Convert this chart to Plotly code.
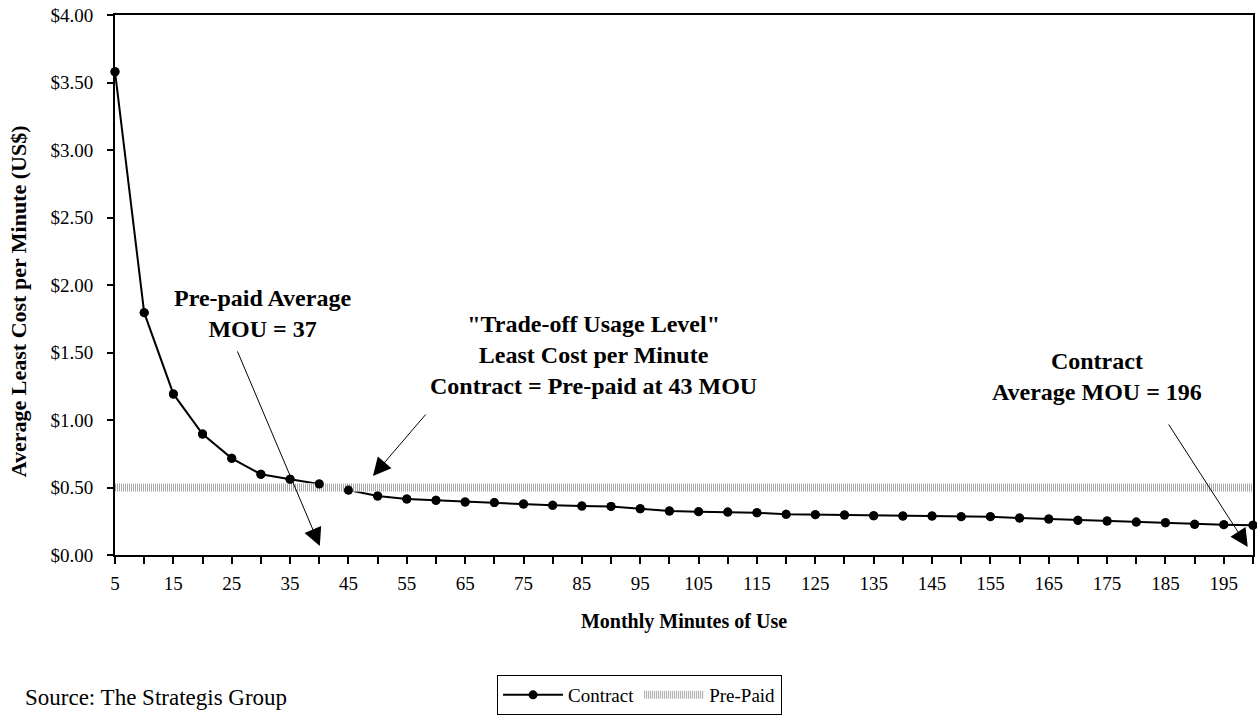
import plotly.graph_objects as go

# Monthly minutes of use (category axis, every 5 minutes)
MINUTES = [5, 10, 15, 20, 25, 30, 35, 40, 45, 50,
           55, 60, 65, 70, 75, 80, 85, 90, 95, 100,
           105, 110, 115, 120, 125, 130, 135, 140, 145, 150,
           155, 160, 165, 170, 175, 180, 185, 190, 195, 200]

# Average least cost per minute on a contract plan (US$)
CONTRACT = [3.58, 1.795, 1.193, 0.896, 0.716, 0.598, 0.561, 0.526, 0.481, 0.437,
            0.415, 0.405, 0.393, 0.388, 0.378, 0.368, 0.363, 0.360, 0.343, 0.326,
            0.321, 0.318, 0.313, 0.301, 0.299, 0.296, 0.291, 0.289, 0.289, 0.284,
            0.284, 0.274, 0.267, 0.257, 0.252, 0.244, 0.239, 0.227, 0.225, 0.220]

# Pre-paid least cost per minute (flat rate)
PREPAID = [0.50] * len(MINUTES)

# Only every other category is labelled on the axis
TICK_TEXT = [str(m) if i % 2 == 0 else "" for i, m in enumerate(MINUTES)]
Y_TICKS = [0.0, 0.5, 1.0, 1.5, 2.0, 2.5, 3.0, 3.5, 4.0]

FONT = "Liberation Serif, Times New Roman, serif"

fig = go.Figure()

# Contract curve (line + markers, shown in legend)
fig.add_trace(go.Scatter(
    x=MINUTES, y=CONTRACT, name="Contract", mode="lines+markers",
    line=dict(color="black", width=2),
    marker=dict(color="black", size=9),
    cliponaxis=False,
))

# Pre-paid flat rate: opaque white base with a fine grey stipple on top
fig.add_trace(go.Scatter(
    x=MINUTES, y=PREPAID, mode="lines", showlegend=False, hoverinfo="skip",
    line=dict(color="white", width=8),
))
fig.add_trace(go.Scatter(
    x=MINUTES, y=PREPAID, name="Pre-Paid", mode="lines",
    line=dict(color="#a8a8a8", width=8, dash="1px,1px"),
))

# Contract markers again so they sit above the band
fig.add_trace(go.Scatter(
    x=MINUTES, y=CONTRACT, mode="markers", showlegend=False,
    marker=dict(color="black", size=9),
    cliponaxis=False, hoverinfo="skip",
))

axis_common = dict(showgrid=False, zeroline=False)

fig.update_layout(
    width=1257, height=717,
    margin=dict(l=115, r=4, t=15, b=162, autoexpand=False),
    paper_bgcolor="white", plot_bgcolor="white",
    font=dict(family=FONT, color="black", size=19),
    xaxis=dict(
        **axis_common,
        range=[MINUTES[0], MINUTES[-1]],
        tickmode="array", tickvals=MINUTES, ticktext=TICK_TEXT,
        ticks="outside", ticklen=7, tickwidth=2, tickcolor="black",
        showline=True, linecolor="black", linewidth=2, mirror=True,
        tickfont=dict(size=19, family=FONT),
        ticklabelstandoff=3,
        automargin=False,
        title=dict(text="<b>Monthly Minutes of Use</b>",
                   font=dict(size=20, family=FONT), standoff=21),
    ),
    xaxis2=dict(
        **axis_common,
        overlaying="x", anchor="y", side="bottom",
        range=[MINUTES[0], MINUTES[-1]],
        tickmode="array", tickvals=MINUTES,
        ticks="inside", ticklen=7, tickwidth=2, tickcolor="black",
        showticklabels=False, showline=False,
    ),
    yaxis=dict(
        **axis_common,
        range=[0, 4],
        tickmode="array", tickvals=Y_TICKS, tickformat="$.2f",
        ticks="outside", ticklen=6, tickwidth=2, tickcolor="black",
        showline=True, linecolor="black", linewidth=2, mirror=True,
        tickfont=dict(size=19, family=FONT),
        ticklabelstandoff=10,
        automargin=False,
    ),
    yaxis2=dict(
        **axis_common,
        overlaying="y", anchor="x", side="left",
        range=[0, 4],
        tickmode="array", tickvals=Y_TICKS,
        ticks="inside", ticklen=6, tickwidth=2, tickcolor="black",
        showticklabels=False, showline=False,
    ),
    legend=dict(
        orientation="h", x=0.3357, y=-0.2963, xanchor="left", yanchor="bottom",
        bgcolor="white", bordercolor="black", borderwidth=1,
        font=dict(size=19, family=FONT), itemwidth=60,
        tracegroupgap=0,
    ),
    showlegend=True,
)

bold24 = dict(size=24, family=FONT, color="black")
arrow_style = dict(showarrow=True, arrowhead=2, arrowsize=3.6, arrowwidth=1,
                   arrowcolor="black", text="", axref="pixel", ayref="pixel")

annotations = [
    # value axis title
    dict(x=-0.0852, y=0.47, xref="paper", yref="paper", showarrow=False,
         text="<b>Average Least Cost per Minute (US$)</b>", textangle=-90,
         xanchor="center", yanchor="middle",
         font=dict(size=22, family=FONT, color="black")),
    # callout texts
    dict(x=30.2, y=1.79, xref="x", yref="y", showarrow=False,
         text="<b>Pre-paid Average<br>MOU = 37</b>", font=bold24,
         align="center", xanchor="center", yanchor="middle"),
    dict(x=87.0, y=1.48, xref="x", yref="y", showarrow=False,
         text="<b>\"Trade-off Usage Level\"<br>Least Cost per Minute<br>"
              "Contract = Pre-paid at 43 MOU</b>", font=bold24,
         align="center", xanchor="center", yanchor="middle"),
    dict(x=173.2, y=1.32, xref="x", yref="y", showarrow=False,
         text="<b>Contract<br>Average MOU = 196</b>", font=bold24,
         align="center", xanchor="center", yanchor="middle"),
    # arrows
    dict(x=40.1, y=0.067, xref="x", yref="y", ax=-83, ay=-196, **arrow_style),
    dict(x=49.2, y=0.585, xref="x", yref="y", ax=54, ay=-63, **arrow_style),
    dict(x=199.1, y=0.059, xref="x", yref="y", ax=-80, ay=-124, **arrow_style),
    # source note
    dict(x=-0.0808, y=-0.263, xref="paper", yref="paper", showarrow=False,
         text="Source: The Strategis Group", xanchor="left", yanchor="middle",
         font=dict(size=23, family=FONT, color="black")),
]
fig.update_layout(annotations=annotations)

fig.write_html("out.html")
